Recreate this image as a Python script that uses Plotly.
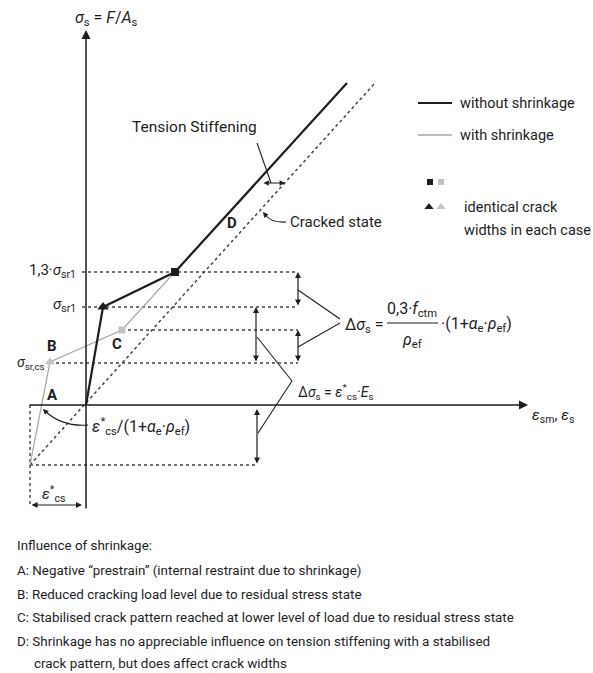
import plotly.graph_objects as go

FONT = "Roboto, Liberation Sans, sans-serif"
INK = "#1e1e1e"
GREY = "#a8a8a8"
DOT = "#444444"

# ---- diagram values (strain on x, steel stress on y, schematic units) ----
eps_cs = -56          # shrinkage strain offset  -ε*cs
sig_shrink = -60      # Δσs = ε*cs·Es
sig_srcs = 42         # σsr,cs  cracking stress with shrinkage
sig_C = 75            # stabilised cracking with shrinkage
sig_sr1 = 98          # σsr1
sig_13 = 133          # 1,3·σsr1

# without shrinkage (solid)
ws_eps = [0, 17, 89, 261]
ws_sig = [0, 98, 133, 322]
# with shrinkage (grey)
sh_eps = [-56, -36, 36, 89, 261]
sh_sig = [-60, 43, 75, 133, 322]
# cracked state, bare steel (dotted)
cr_eps = [-56, 289]
cr_sig = [-60, 322]

# horizontal reference levels: (level, start, end)
ref_levels = [sig_13, sig_sr1, sig_C, sig_srcs, sig_shrink]
ref_start = [-4, -4, 36, -36, -56]
ref_end = [212, 212, 212, 212, 172]

notes = [
    "Influence of shrinkage:",
    "A: Negative \u201cprestrain\u201d (internal restraint due to shrinkage)",
    "B: Reduced cracking load level due to residual stress state",
    "C: Stabilised crack pattern reached at lower level of load due to residual stress state",
    "D: Shrinkage has no appreciable influence on tension stiffening with a stabilised",
    "crack pattern, but does affect crack widths",
]
notes_y = [-140, -165, -189, -212, -236, -258]
notes_x = [-71, -71, -71, -71, -71, -54]

fig = go.Figure()

# reference dotted levels
for lv, x0, x1 in zip(ref_levels, ref_start, ref_end):
    fig.add_trace(go.Scatter(x=[x0, x1], y=[lv, lv], mode="lines",
                             line=dict(color=DOT, width=1.4, dash="dot"),
                             hoverinfo="skip", showlegend=False))
# vertical dotted at -ε*cs
fig.add_trace(go.Scatter(x=[eps_cs, eps_cs], y=[0, -100], mode="lines",
                         line=dict(color=DOT, width=1.4, dash="dot"),
                         hoverinfo="skip", showlegend=False))

# cracked state line
fig.add_trace(go.Scatter(x=cr_eps, y=cr_sig, mode="lines",
                         line=dict(color=DOT, width=1.5, dash="dot"),
                         hoverinfo="skip", showlegend=False))
# with shrinkage
fig.add_trace(go.Scatter(x=sh_eps, y=sh_sig, mode="lines",
                         line=dict(color=GREY, width=1.3),
                         hoverinfo="skip", showlegend=False))
# without shrinkage
fig.add_trace(go.Scatter(x=ws_eps, y=ws_sig, mode="lines",
                         line=dict(color=INK, width=2.2),
                         hoverinfo="skip", showlegend=False))

# markers: identical crack widths
fig.add_trace(go.Scatter(x=[ws_eps[1]], y=[ws_sig[1]], mode="markers",
                         marker=dict(symbol="triangle-up", size=10, color=INK),
                         hoverinfo="skip", showlegend=False))
fig.add_trace(go.Scatter(x=[ws_eps[2]], y=[ws_sig[2]], mode="markers",
                         marker=dict(symbol="square", size=8, color=INK),
                         hoverinfo="skip", showlegend=False))
fig.add_trace(go.Scatter(x=[sh_eps[1]], y=[sh_sig[1]], mode="markers",
                         marker=dict(symbol="triangle-up", size=9, color="#c4c4c4"),
                         hoverinfo="skip", showlegend=False))
fig.add_trace(go.Scatter(x=[sh_eps[2]], y=[sh_sig[2]], mode="markers",
                         marker=dict(symbol="square", size=7, color="#c4c4c4"),
                         hoverinfo="skip", showlegend=False))

# legend (drawn by hand)
fig.add_trace(go.Scatter(x=[332, 366], y=[302, 302], mode="lines",
                         line=dict(color=INK, width=2), hoverinfo="skip", showlegend=False))
fig.add_trace(go.Scatter(x=[332, 366], y=[270, 270], mode="lines",
                         line=dict(color=GREY, width=1.4), hoverinfo="skip", showlegend=False))
fig.add_trace(go.Scatter(x=[344, 355], y=[223, 223], mode="markers",
                         marker=dict(symbol="square", size=6, color=[INK, "#c4c4c4"]),
                         hoverinfo="skip", showlegend=False))
fig.add_trace(go.Scatter(x=[343, 355], y=[198, 198], mode="markers",
                         marker=dict(symbol="triangle-up", size=8, color=[INK, "#c4c4c4"]),
                         hoverinfo="skip", showlegend=False))


def txt(x, y, s, size=15, xanchor="center", yanchor="middle", color=INK):
    fig.add_annotation(x=x, y=y, xref="x", yref="y", text=s, showarrow=False,
                       xanchor=xanchor, yanchor=yanchor,
                       font=dict(family=FONT, size=size, color=color))


def arrow(x0, y0, x1, y1, both=False, width=1.2, head=2, size=1.0):
    fig.add_annotation(x=x1, y=y1, ax=x0, ay=y0, xref="x", yref="y",
                       axref="x", ayref="y", text="", showarrow=True,
                       arrowhead=head, arrowsize=size, arrowwidth=width,
                       arrowcolor=INK, arrowside="end+start" if both else "end",
                       startarrowhead=head, startarrowsize=size)


def seg(x0, y0, x1, y1, width=1.1, color=INK):
    fig.add_shape(type="line", x0=x0, y0=y0, x1=x1, y1=y1, xref="x", yref="y",
                  line=dict(color=color, width=width))


# axes with arrowheads
arrow(0, -105, 0, 375, width=1.5, head=2, size=1.2)
arrow(-58, 0, 442, 0, width=1.5, head=2, size=1.2)

# double arrows for Δσs
arrow(212, sig_sr1, 212, sig_13, both=True)
arrow(212, sig_srcs, 212, sig_C, both=True)
arrow(170, sig_srcs, 170, sig_sr1, both=True)
arrow(171, sig_shrink, 171, -4, both=True)
# ε*cs span
arrow(-56, -100, -4, -100, both=True)
# tension stiffening span
arrow(176, 222, 199, 222, both=True, size=0.9)

# leader lines
seg(212, 115, 254, 86)
seg(212, 58, 254, 82)
seg(171, 68, 206, 24)
seg(172, -28, 206, 24)
seg(171, 262, 185, 222)

# curved leaders
fig.add_shape(type="path", path="M 2,-20 Q -24,-22 -41,-6", xref="x", yref="y",
              line=dict(color=INK, width=1.1))
arrow(-38, -9, -43, -4, size=0.9)
fig.add_shape(type="path", path="M 200,183 Q 186,182 179,190", xref="x", yref="y",
              line=dict(color=INK, width=1.1))
arrow(181, 188, 177, 193, size=0.9)

# axis titles
txt(20, 387, "<i>σ</i><sub>s</sub> = <i>F</i>/<i>A</i><sub>s</sub>", size=16)
txt(444, -11, "<i>ε</i><sub>sm</sub>, <i>ε</i><sub>s</sub>", size=15, xanchor="left")

# level labels
txt(-8, sig_13 + 1, "1,3·<i>σ</i><sub>sr1</sub>", size=15, xanchor="right")
txt(-8, sig_sr1 + 2, "<i>σ</i><sub>sr1</sub>", size=15, xanchor="right")
txt(-71, sig_srcs, "<i>σ</i><sub>sr,cs</sub>", size=14, xanchor="left")

# point labels
txt(-34, 10, "<b>A</b>", size=15)
txt(-34, 59, "<b>B</b>", size=15)
txt(31, 61, "<b>C</b>", size=15)
txt(146, 182, "<b>D</b>", size=15)

txt(-33, -89, "<i>ε</i><sup>*</sup><sub>cs</sub>", size=15)
txt(4, -21, "<i>ε</i><sup>*</sup><sub>cs</sub>/(1+<i>α</i><sub>e</sub>·<i>ρ</i><sub>ef</sub>)",
    size=16, xanchor="left")

# Δσs formulas
txt(257, 80, "Δ<i>σ</i><sub>s</sub> =", size=16, xanchor="left")
txt(326, 96, "0,3·<i>f</i><sub>ctm</sub>", size=16)
seg(301, 82, 352, 82, width=1.2)
txt(326, 65, "<i>ρ</i><sub>ef</sub>", size=16)
txt(353, 81, "·(1+<i>α</i><sub>e</sub>·<i>ρ</i><sub>ef</sub>)", size=16, xanchor="left")
txt(210, 13, "Δ<i>σ</i><sub>s</sub> = <i>ε</i><sup>*</sup><sub>cs</sub>·<i>E</i><sub>s</sub>",
    size=14, xanchor="left")

txt(108, 278, "Tension Stiffening", size=15.5)
txt(202, 183, "Cracked state", size=15, xanchor="left")

# legend text
txt(372, 302, "without shrinkage", size=14.5, xanchor="left")
txt(372, 270, "with shrinkage", size=14.5, xanchor="left")
txt(376, 198, "identical crack", size=14.5, xanchor="left")
txt(376, 175, "widths in each case", size=14.5, xanchor="left")

for s, x, y in zip(notes, notes_x, notes_y):
    txt(x, y, s, size=13.4, xanchor="left")

fig.update_layout(
    width=593, height=673,
    margin=dict(l=0, r=0, t=0, b=0),
    paper_bgcolor="white", plot_bgcolor="white",
    xaxis=dict(range=[-86, 507], visible=False, fixedrange=True),
    yaxis=dict(range=[-268, 405], visible=False, fixedrange=True),
    showlegend=False,
)

fig.write_html("out.html")
